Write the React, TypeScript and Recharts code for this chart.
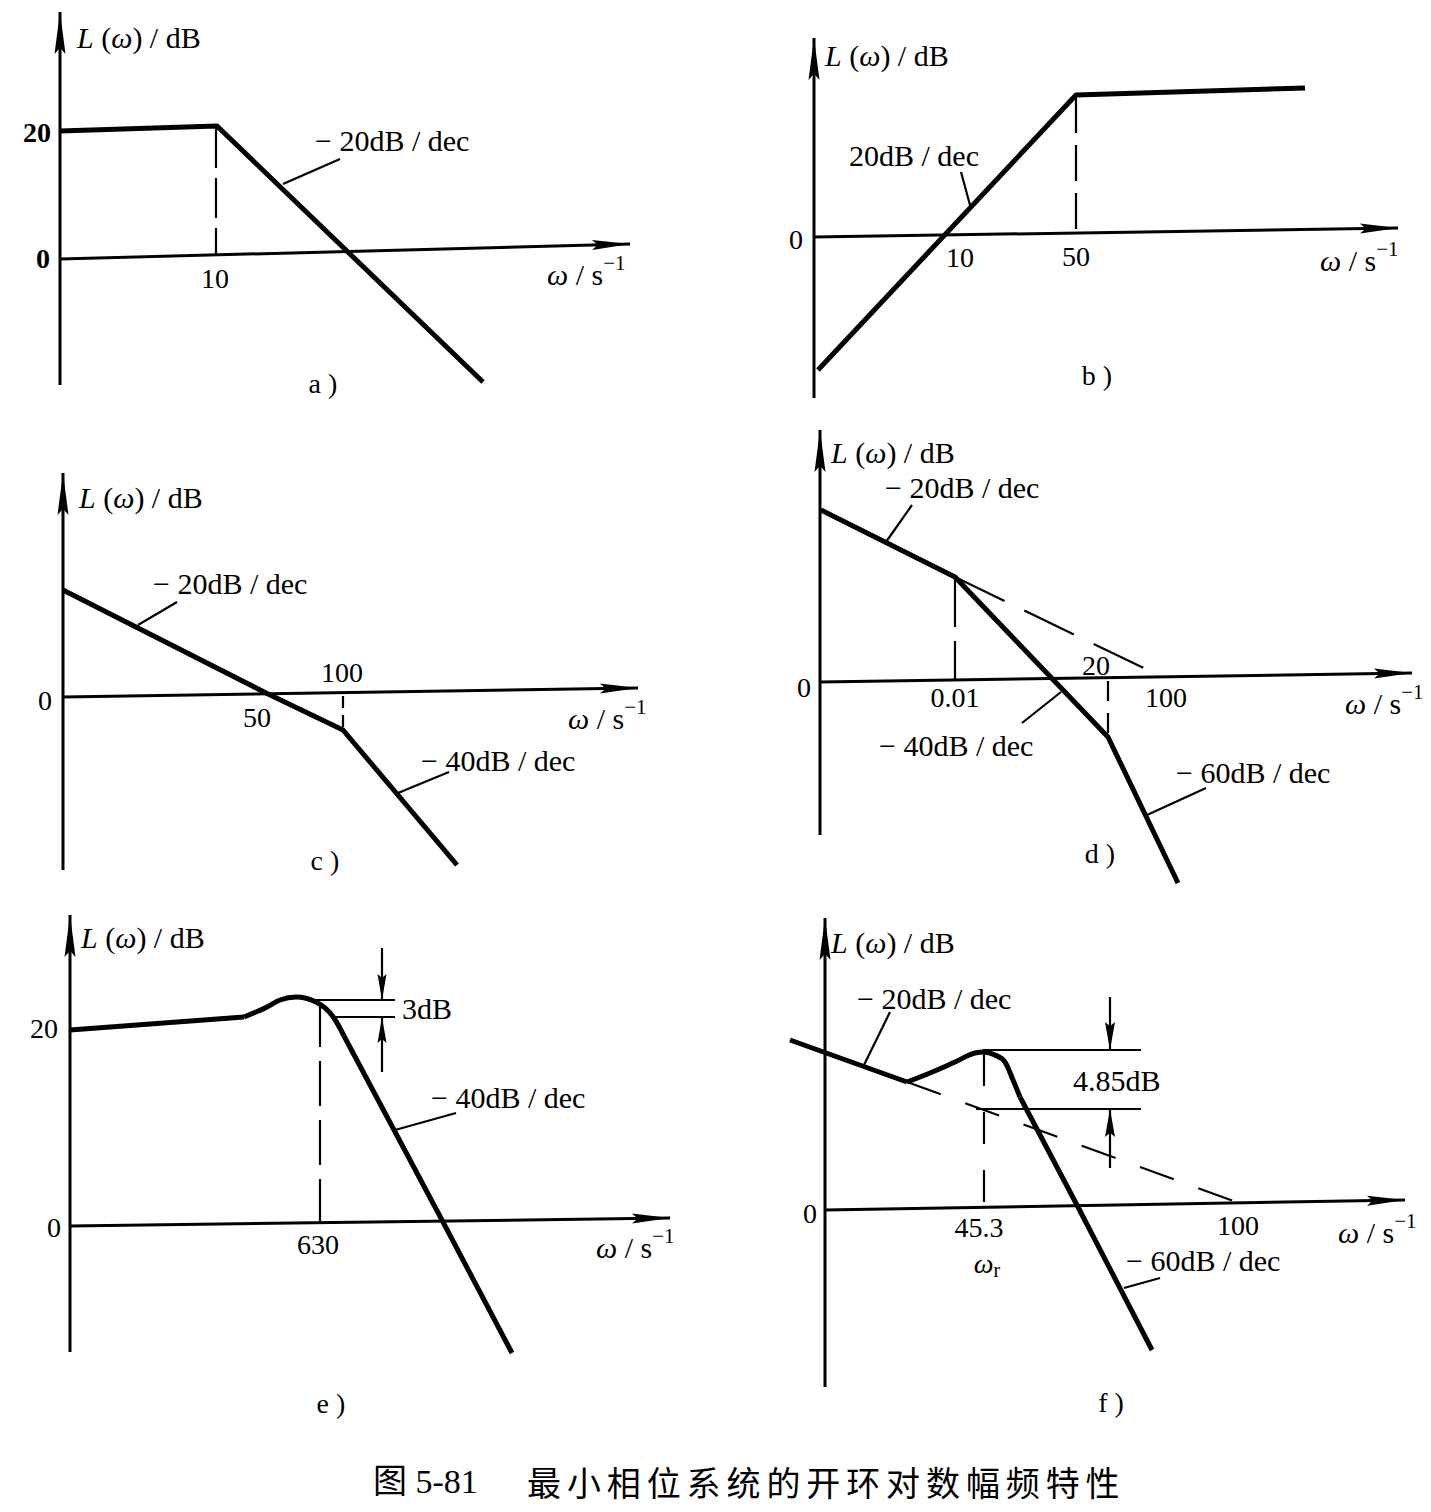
import React from "react";
import { ComposedChart, Line, Scatter, XAxis, YAxis } from "recharts";

type XY = [number, number];
type Lbl = [number, number, string, boolean?];

// every panel uses its own units: x to the right of the L axis, y above the ω axis

// a)
const aYAxis: XY[] = [[0, -126], [0, 247]];
const aXAxis: XY[] = [[0, 0], [570, 15]];
const aCurve: XY[] = [[0, 128], [157, 133], [423, -123]];
const aDrop: XY[] = [[156, 131], [156, 3]];
const aLeader: XY[] = [[223, 75], [280, 100]];
const aTicks: Lbl[] = [[-23, 127, "20", true], [-17, 1, "0", true], [155, -19, "10"], [263, -124, "a )"]];
const aNotes: Lbl[] = [[17, 222, "Lw"], [255, 119, "− 20dB / dec"], [487, -15, "ws"]];

// b)
const bYAxis: XY[] = [[0, -161], [0, 199]];
const bXAxis: XY[] = [[0, 0], [584, 9]];
const bCurve: XY[] = [[4, -133], [262, 142], [491, 149]];
const bDrop: XY[] = [[262, 140], [262, 2]];
const bLeader: XY[] = [[147, 65], [156, 32]];
const bTicks: Lbl[] = [[-18, -2, "0"], [146, -20, "10"], [262, -19, "50"], [283, -138, "b )"]];
const bNotes: Lbl[] = [[11, 182, "Lw"], [35, 82, "20dB / dec"], [506, -23, "ws"]];

// c)
const cYAxis: XY[] = [[0, -173], [0, 224]];
const cXAxis: XY[] = [[0, 0], [575, 9]];
const cCurve: XY[] = [[0, 107], [203, 4], [280, -33], [394, -168]];
const cDrop: XY[] = [[280, 1], [280, -31]];
const cLeader1: XY[] = [[75, 72], [114, 95]];
const cLeader2: XY[] = [[335, -96], [386, -75]];
const cTicks: Lbl[] = [[-18, -3, "0"], [279, 25, "100"], [194, -20, "50"], [262, -163, "c )"]];
const cNotes: Lbl[] = [[16, 200, "Lw"], [90, 114, "− 20dB / dec"], [358, -63, "− 40dB / dec"], [505, -21, "ws"]];

// d)
const dYAxis: XY[] = [[0, -153], [0, 252]];
const dXAxis: XY[] = [[0, 0], [592, 9]];
const dCurve: XY[] = [[1, 172], [135, 105], [288, -55], [358, -201]];
const dAsym: XY[] = [[135, 105], [338, 7]];
const dDrop1: XY[] = [[135, 103], [135, 1]];
const dDrop2: XY[] = [[288, 1], [288, -53]];
const dLeader1: XY[] = [[66, 140], [92, 177]];
const dLeader2: XY[] = [[202, -41], [241, -10]];
const dLeader3: XY[] = [[327, -133], [386, -106]];
const dTicks: Lbl[] = [[-16, -5, "0"], [135, -15, "0.01"], [276, 17, "20"], [346, -15, "100"], [280, -171, "d )"]];
const dNotes: Lbl[] = [[11, 230, "Lw"], [65, 195, "− 20dB / dec"], [59, -63, "− 40dB / dec"], [356, -90, "− 60dB / dec"], [525, -21, "ws"]];

// e)
const eYAxis: XY[] = [[0, -126], [0, 311]];
const eXAxis: XY[] = [[0, 0], [600, 8]];
const eFlat: XY[] = [[0, 196], [174, 209]];
const eBump: XY[] = [[174, 209], [197, 219], [210, 226], [226, 229], [246, 224], [264, 208], [274, 190]];
const eTail: XY[] = [[274, 190], [373, 4], [442, -127]];
const eDrop: XY[] = [[250, 224], [250, 4]];
const eTop: XY[] = [[246, 226], [325, 226]];
const eBottom: XY[] = [[266, 209], [325, 209]];
const eArrowDown: XY[] = [[312, 278], [312, 226]];
const eArrowUp: XY[] = [[312, 154], [312, 209]];
const eLeader: XY[] = [[325, 96], [386, 113]];
const eTicks: Lbl[] = [[-26, 198, "20"], [-16, -1, "0"], [248, -18, "630"], [261, -177, "e )"]];
const eNotes: Lbl[] = [[11, 289, "Lw"], [332, 218, "3dB"], [361, 129, "− 40dB / dec"], [526, -21, "ws"]];

// f)
const fYAxis: XY[] = [[0, -177], [0, 292]];
const fXAxis: XY[] = [[0, 0], [580, 10]];
const fLow: XY[] = [[-35, 170], [82, 128]];
const fBump: XY[] = [[82, 128], [105, 137], [130, 148], [150, 157], [158, 158], [170, 155], [180, 148], [188, 130], [195, 113]];
const fTail: XY[] = [[195, 113], [253, 3], [327, -140]];
const fAsym: XY[] = [[82, 128], [411, 8]];
const fDrop: XY[] = [[159, 156], [159, 3]];
const fTop: XY[] = [[158, 160], [316, 160]];
const fBottom: XY[] = [[151, 101], [316, 101]];
const fArrowDown: XY[] = [[285, 213], [285, 160]];
const fArrowUp: XY[] = [[285, 42], [285, 101]];
const fLeader1: XY[] = [[39, 145], [65, 198]];
const fLeader2: XY[] = [[299, -78], [335, -68]];
const fTicks: Lbl[] = [[-15, -3, "0"], [154, -17, "45.3"], [162, -53, "wr"], [413, -15, "100"], [286, -192, "f )"]];
const fNotes: Lbl[] = [[6, 268, "Lw"], [32, 212, "− 20dB / dec"], [248, 130, "4.85dB"], [301, -50, "− 60dB / dec"], [513, -22, "ws"]];

const FONT = "'Liberation Serif', 'Times New Roman', serif";

const toPts = (a: XY[]) => a.map(([x, y]) => ({ x, y }));
const toLabels = (a: Lbl[]) => a.map(([x, y, text, bold]) => ({ x, y, text, bold: !!bold }));

// filled arrow head at the last point; one unit is one pixel on both axes
const arrowHead = (pts: XY[], len: number, half: number) => (p: any) => {
  if (p.index !== pts.length - 1 || p.cx == null) return <g key={`d${p.index}`} />;
  const [x0, y0] = pts[pts.length - 2];
  const [x1, y1] = pts[pts.length - 1];
  const dx = x1 - x0;
  const dy = -(y1 - y0);
  const m = Math.hypot(dx, dy) || 1;
  const ux = dx / m;
  const uy = dy / m;
  const bx = p.cx - ux * len;
  const by = p.cy - uy * len;
  const nx = -uy;
  const ny = ux;
  const k = len * 0.15;
  return (
    <polygon
      key={`d${p.index}`}
      points={`${p.cx},${p.cy} ${bx + nx * half},${by + ny * half} ${bx + ux * k},${by + uy * k} ${bx - nx * half},${by - ny * half}`}
      fill="#000"
    />
  );
};

type SegOpt = { dash?: string; smooth?: boolean; arrow?: [number, number] };

const seg = (id: string, pts: XY[], width: number, opt: SegOpt = {}) => (
  <Line
    key={id}
    data={toPts(pts)}
    dataKey="y"
    type={opt.smooth ? "monotone" : "linear"}
    stroke="#000"
    strokeWidth={width}
    strokeDasharray={opt.dash}
    strokeLinejoin="round"
    dot={opt.arrow ? arrowHead(pts, opt.arrow[0], opt.arrow[1]) : false}
    activeDot={false}
    legendType="none"
    isAnimationActive={false}
  />
);

const rich = (text: string) => {
  if (text === "Lw")
    return [
      <tspan key="1" fontStyle="italic">L</tspan>,
      <tspan key="2"> (</tspan>,
      <tspan key="3" fontStyle="italic">ω</tspan>,
      <tspan key="4">) / dB</tspan>,
    ];
  if (text === "ws")
    return [
      <tspan key="1" fontStyle="italic">ω</tspan>,
      <tspan key="2"> / s</tspan>,
      <tspan key="3" dy={-11} fontSize={21}>−1</tspan>,
    ];
  if (text === "wr")
    return [
      <tspan key="1" fontStyle="italic">ω</tspan>,
      <tspan key="2" dy={7} fontSize={20}>r</tspan>,
    ];
  return text;
};

const textShape = (anchor: "start" | "middle", size: number) => (p: any) => (
  <text
    x={p.cx}
    y={p.cy}
    textAnchor={anchor}
    dominantBaseline="central"
    fontFamily={FONT}
    fontSize={size}
    fontWeight={p.payload.bold ? 700 : 400}
    fill="#000"
  >
    {rich(p.payload.text)}
  </text>
);

type Box = { left: number; top: number; width: number; height: number; ox: number; oy: number };

const panel = (id: string, b: Box, series: React.ReactNode[], ticks: Lbl[], notes: Lbl[]) => (
  <div key={id} style={{ position: "absolute", left: b.left, top: b.top }}>
    <ComposedChart width={b.width} height={b.height} margin={{ top: 0, right: 0, bottom: 0, left: 0 }}>
      <XAxis
        type="number"
        dataKey="x"
        domain={[b.left - b.ox, b.left + b.width - b.ox]}
        allowDataOverflow
        hide
      />
      <YAxis
        type="number"
        dataKey="y"
        domain={[b.oy - b.top - b.height, b.oy - b.top]}
        allowDataOverflow
        hide
      />
      {series}
      <Scatter data={toLabels(ticks)} shape={textShape("middle", 28)} legendType="none" isAnimationActive={false} />
      <Scatter data={toLabels(notes)} shape={textShape("start", 30)} legendType="none" isAnimationActive={false} />
    </ComposedChart>
  </div>
);

const Y_ARROW: [number, number] = [42, 5.5];
const X_ARROW: [number, number] = [38, 5];
const CURVE = 5;
const AXIS = 3;
const THIN = 2.2;

export default function App() {
  return (
    <div
      style={{
        position: "absolute",
        left: 0,
        top: 0,
        width: 1431,
        height: 1512,
        background: "#fff",
        overflow: "hidden",
      }}
    >
      {panel(
        "a",
        { left: 0, top: 0, width: 660, height: 410, ox: 60, oy: 259 },
        [
          seg("ay", aYAxis, AXIS, { arrow: Y_ARROW }),
          seg("ax", aXAxis, AXIS, { arrow: X_ARROW }),
          seg("ad", aDrop, THIN, { dash: "40 10" }),
          seg("al", aLeader, THIN),
          seg("ac", aCurve, CURVE),
        ],
        aTicks,
        aNotes
      )}
      {panel(
        "b",
        { left: 740, top: 20, width: 691, height: 390, ox: 814, oy: 237 },
        [
          seg("by", bYAxis, AXIS, { arrow: Y_ARROW }),
          seg("bx", bXAxis, AXIS, { arrow: X_ARROW }),
          seg("bd", bDrop, THIN, { dash: "36 12" }),
          seg("bl", bLeader, THIN),
          seg("bc", bCurve, CURVE),
        ],
        bTicks,
        bNotes
      )}
      {panel(
        "c",
        { left: 0, top: 460, width: 660, height: 420, ox: 63, oy: 697 },
        [
          seg("cy", cYAxis, AXIS, { arrow: Y_ARROW }),
          seg("cx", cXAxis, AXIS, { arrow: X_ARROW }),
          seg("cd", cDrop, THIN, { dash: "12 7" }),
          seg("cl1", cLeader1, THIN),
          seg("cl2", cLeader2, THIN),
          seg("cc", cCurve, CURVE),
        ],
        cTicks,
        cNotes
      )}
      {panel(
        "d",
        { left: 760, top: 420, width: 671, height: 475, ox: 820, oy: 682 },
        [
          seg("dy", dYAxis, AXIS, { arrow: Y_ARROW }),
          seg("dx", dXAxis, AXIS, { arrow: X_ARROW }),
          seg("da", dAsym, THIN, { dash: "55 22" }),
          seg("dd1", dDrop1, THIN, { dash: "48 14" }),
          seg("dd2", dDrop2, THIN, { dash: "20 12" }),
          seg("dl1", dLeader1, THIN),
          seg("dl2", dLeader2, THIN),
          seg("dl3", dLeader3, THIN),
          seg("dc", dCurve, CURVE),
        ],
        dTicks,
        dNotes
      )}
      {panel(
        "e",
        { left: 0, top: 900, width: 700, height: 525, ox: 70, oy: 1226 },
        [
          seg("ey", eYAxis, AXIS, { arrow: Y_ARROW }),
          seg("ex", eXAxis, AXIS, { arrow: X_ARROW }),
          seg("ed", eDrop, THIN, { dash: "45 14" }),
          seg("et", eTop, THIN),
          seg("eb", eBottom, THIN),
          seg("ead", eArrowDown, THIN, { arrow: [26, 4.5] }),
          seg("eau", eArrowUp, THIN, { arrow: [26, 4.5] }),
          seg("el", eLeader, THIN),
          seg("ef", eFlat, CURVE),
          seg("ebump", eBump, CURVE, { smooth: true }),
          seg("etail", eTail, CURVE),
        ],
        eTicks,
        eNotes
      )}
      {panel(
        "f",
        { left: 760, top: 905, width: 671, height: 525, ox: 825, oy: 1210 },
        [
          seg("fy", fYAxis, AXIS, { arrow: Y_ARROW }),
          seg("fx", fXAxis, AXIS, { arrow: X_ARROW }),
          seg("fa", fAsym, THIN, { dash: "36 26" }),
          seg("fd", fDrop, THIN, { dash: "32 26" }),
          seg("ft", fTop, THIN),
          seg("fb", fBottom, THIN),
          seg("fad", fArrowDown, THIN, { arrow: [28, 5] }),
          seg("fau", fArrowUp, THIN, { arrow: [28, 5] }),
          seg("fl1", fLeader1, THIN),
          seg("fl2", fLeader2, THIN),
          seg("flow", fLow, CURVE),
          seg("fbump", fBump, CURVE, { smooth: true }),
          seg("ftail", fTail, CURVE),
        ],
        fTicks,
        fNotes
      )}
      <div
        style={{
          position: "absolute",
          left: 373,
          top: 1463,
          fontFamily: "'Liberation Serif', 'Noto Sans CJK SC', serif",
          fontSize: 34,
          lineHeight: "38px",
          whiteSpace: "nowrap",
          color: "#000",
        }}
      >
        图 5-81
      </div>
      <div
        style={{
          position: "absolute",
          left: 527,
          top: 1463,
          fontFamily: "'Noto Sans CJK SC', sans-serif",
          fontSize: 34,
          lineHeight: "38px",
          letterSpacing: 5.9,
          whiteSpace: "nowrap",
          color: "#000",
        }}
      >
        最小相位系统的开环对数幅频特性
      </div>
    </div>
  );
}
